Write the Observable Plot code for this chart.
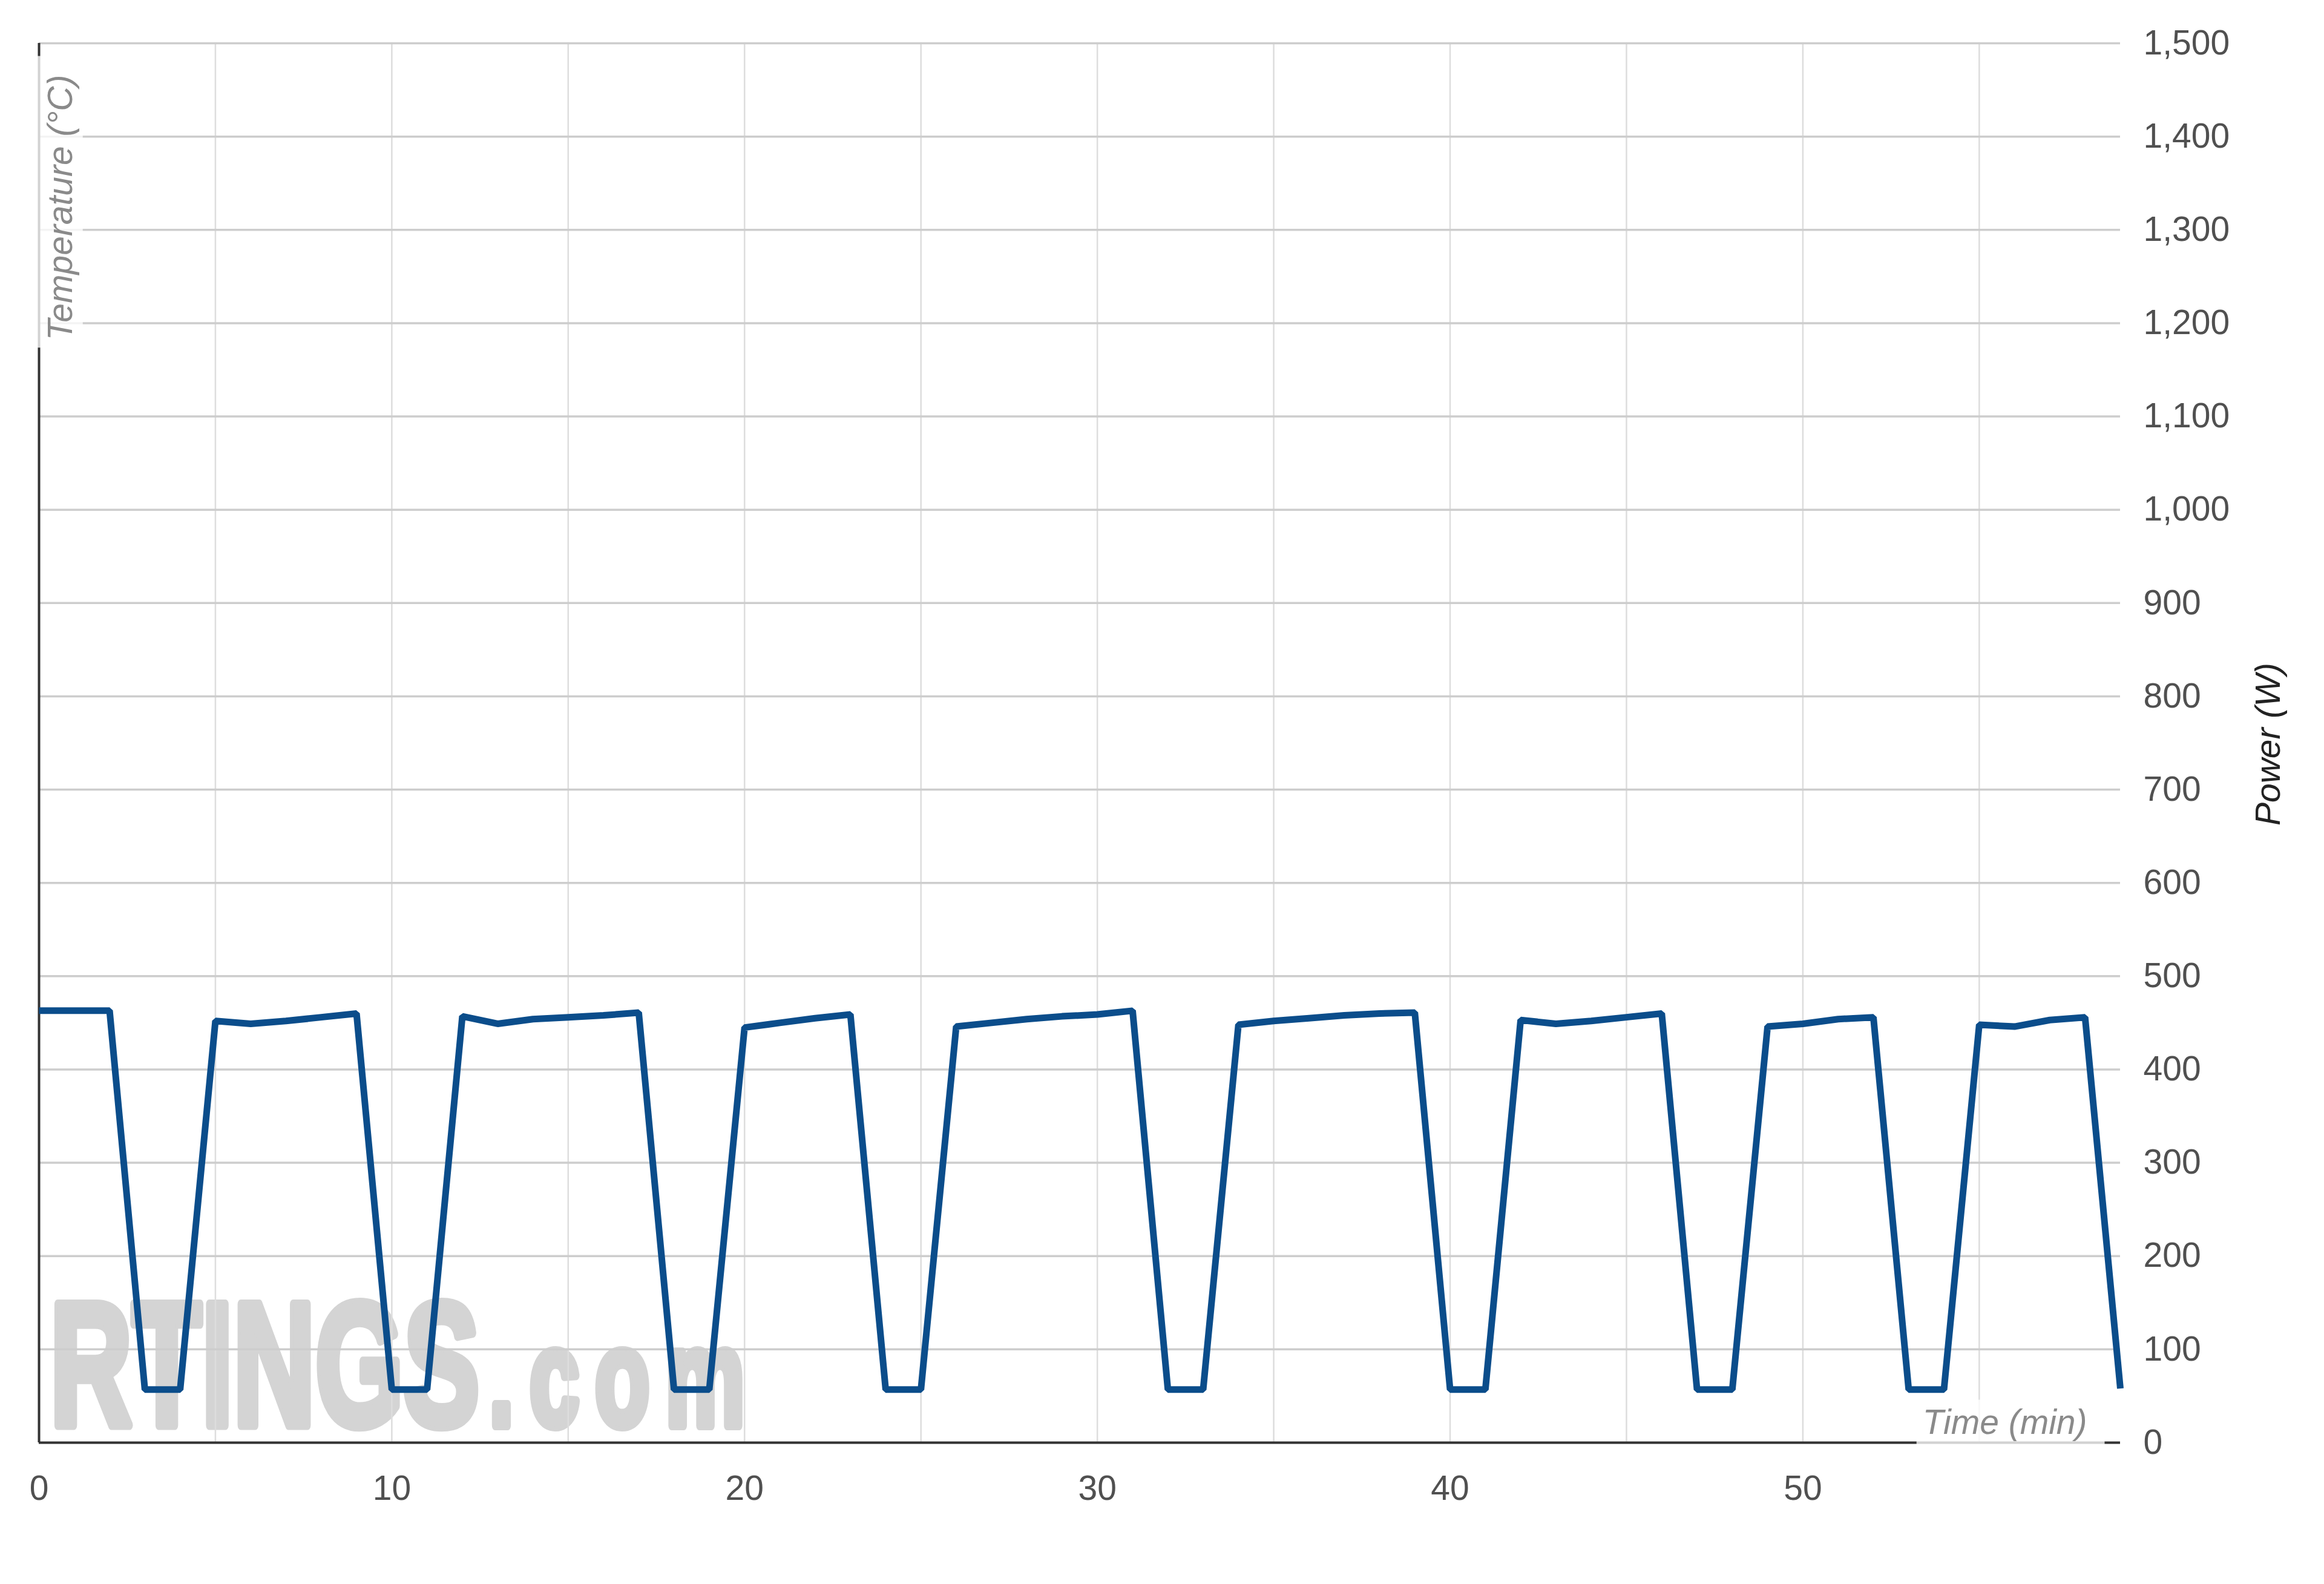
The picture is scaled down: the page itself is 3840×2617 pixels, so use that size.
<!DOCTYPE html>
<html>
<head>
<meta charset="utf-8">
<script src="https://cdn.jsdelivr.net/npm/d3@7"></script>
<script src="https://cdn.jsdelivr.net/npm/@observablehq/plot@0.6"></script>
<style>
  html, body { margin: 0; padding: 0; background: #ffffff; }
  #chart svg { display: block; }
</style>
</head>
<body>
<div id="chart"></div>
<script>
// ---- data ----
const minutes = [0,1,2,3,4,5,6,7,8,9,10,11,12,13,14,15,16,17,18,19,20,21,22,23,24,25,26,27,28,29,
                 30,31,32,33,34,35,36,37,38,39,40,41,42,43,44,45,46,47,48,49,50,51,52,53,54,55,56,57,58,59];
const power = [463,463,463,57,57,452,449,452,456,460,57,57,457,449,454,456,458,461,57,57,
               445,450,455,459,57,57,446,450,454,457,459,463,57,57,448,452,455,458,460,461,
               57,57,453,449,452,456,460,57,57,446,449,454,456,57,57,448,446,453,456,58];
const xTicks = [0, 10, 20, 30, 40, 50];
const xGrid = [5, 10, 15, 20, 25, 30, 35, 40, 45, 50, 55];
const yTicks = [0, 100, 200, 300, 400, 500, 600, 700, 800, 900, 1000, 1100, 1200, 1300, 1400, 1500];
const xLabel = "Time (min)";
const yLeftLabel = "Temperature (°C)";
const yRightLabel = "Power (W)";
const watermarkMain = "RTINGS";
const watermarkTail = ".com";

const data = minutes.map((m, i) => ({minute: m, power: power[i]}));

const chart = Plot.plot({
  width: 3840,
  height: 2617,
  marginLeft: 64,
  marginRight: 337,
  marginTop: 71,
  marginBottom: 234,
  x: {domain: [0, 59]},
  y: {domain: [0, 1500]},
  style: {
    fontFamily: "'Liberation Sans', Arial, Helvetica, sans-serif",
    fontSize: "57px",
    background: "#ffffff",
    overflow: "visible"
  },
  marks: [
    // watermark (one text, restyled below into two tspans)
    Plot.text([watermarkMain + watermarkTail], {text: d => d, frameAnchor: "bottom-left", textAnchor: "start",
      lineAnchor: "bottom", dx: 18, dy: -29, fontSize: 290, fontWeight: "bold",
      fill: "#d4d4d4", stroke: "#d4d4d4", strokeWidth: 16, strokeLinejoin: "round"}),
    // grid
    Plot.ruleX(xGrid, {stroke: "#dddddd", strokeWidth: 2.5}),
    Plot.ruleY(yTicks, {stroke: "#cdcdcd", strokeWidth: 3.5}),
    // axis lines
    Plot.ruleX([0], {stroke: "#333333", strokeWidth: 4}),
    Plot.ruleY([0], {stroke: "#333333", strokeWidth: 4}),
    // data
    Plot.line(data, {x: "minute", y: "power", stroke: "#0b4d8b", strokeWidth: 11,
      strokeLinejoin: "miter", strokeLinecap: "butt"}),
    // axes
    Plot.axisX({ticks: xTicks, tickSize: 0, tickPadding: 54, label: null, color: "#505050"}),
    Plot.axisY({anchor: "right", ticks: yTicks, tickSize: 0, tickPadding: 38, label: null,
      tickFormat: d3.format(","), color: "#505050"}),
    // axis titles
    Plot.text([yRightLabel], {text: d => d, frameAnchor: "right", dx: 245, dy: 2, rotate: -90,
      textAnchor: "middle", lineAnchor: "middle", fontStyle: "italic", fill: "#222222"}),
    Plot.text([yLeftLabel], {text: d => d, frameAnchor: "top-left", dx: 36, dy: 52, rotate: -90,
      textAnchor: "end", lineAnchor: "middle", fontStyle: "italic", fill: "#8a8a8a"}),
    Plot.text([xLabel], {text: d => d, frameAnchor: "bottom-right", dx: -55, dy: -15,
      textAnchor: "end", lineAnchor: "bottom", fontStyle: "italic", fill: "#8a8a8a"})
  ]
});

document.getElementById("chart").appendChild(chart);

// ---- post-processing: condensed watermark and label backdrops ----
const svg = d3.select(chart);
const texts = svg.selectAll("text");

texts.filter(function() { return this.textContent === watermarkMain + watermarkTail; }).each(function() {
  const el = d3.select(this);
  el.text(null);
  el.append("tspan").text(watermarkMain);
  el.append("tspan").attr("font-size", 228).attr("letter-spacing", 40).attr("dx", 24).text(watermarkTail);
  const t = this.getAttribute("transform") || "";
  this.setAttribute("transform", (t + " scale(0.648,1)").trim());
});

function backdrop(label, padStart, padEnd, padTop, padBottom) {
  texts.filter(function() { return this.textContent === label; }).each(function() {
    const b = this.getBBox();
    const r = document.createElementNS("http://www.w3.org/2000/svg", "rect");
    r.setAttribute("x", b.x - padStart);
    r.setAttribute("y", b.y - padTop);
    r.setAttribute("width", b.width + padStart + padEnd);
    r.setAttribute("height", b.height + padTop + padBottom);
    r.setAttribute("fill", "#ffffff");
    r.setAttribute("fill-opacity", "0.78");
    const t = this.getAttribute("transform");
    if (t) r.setAttribute("transform", t);
    this.parentNode.insertBefore(r, this);
  });
}
backdrop(yLeftLabel, 12, 31, 6, 6);
backdrop(xLabel, 10, 29, 4, 8);
</script>
</body>
</html>
